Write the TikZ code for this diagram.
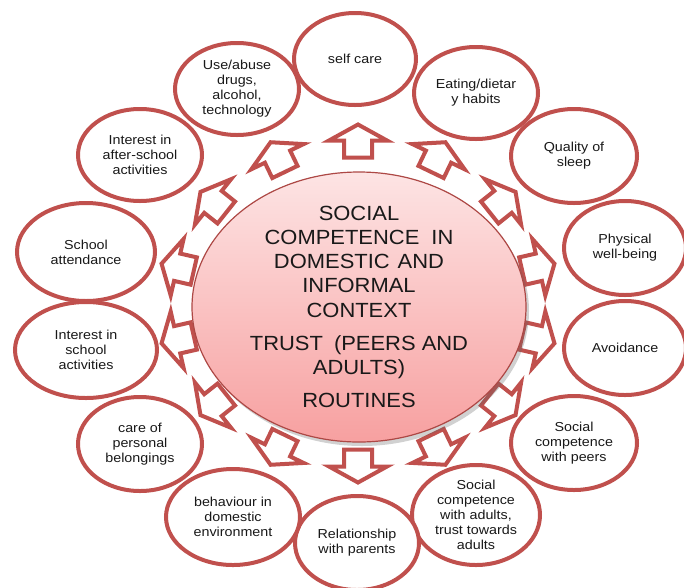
\documentclass[tikz,border=0pt]{standalone}
\usepackage{fontspec}
\setmainfont{Liberation Sans}
\newfontfamily\lblfont[FakeStretch=1.1]{Liberation Sans}
\newfontfamily\ctrfont[FakeStretch=1.07]{Liberation Sans}
\usetikzlibrary{shapes.geometric,shadows}
\definecolor{accred}{HTML}{C0504D}
\definecolor{pinktop}{RGB}{253,228,228}
\definecolor{pinkbot}{RGB}{247,160,160}
\definecolor{txtc}{RGB}{25,25,25}
\tikzset{
  outerell/.style={ellipse, draw=accred, line width=4pt, fill=white, inner sep=-30pt,
    align=center, text=txtc, font=\lblfont\fontsize{13}{15}\selectfont},
  blockarr/.style={draw=accred, line width=4pt, fill=white, line join=miter},
  hub/.style={ellipse, draw=accred!90!black, line width=1.2pt, inner sep=-45pt,
    top color=pinktop, bottom color=pinkbot, align=center, text=txtc,
    font=\ctrfont\fontsize{20.5}{24.2}\selectfont,
    drop shadow={shadow xshift=3pt, shadow yshift=-4pt, opacity=0.3, fill=black!60}}
}
\begin{document}
\begin{tikzpicture}[x=1pt,y=-1pt]
\useasboundingbox (0,0) rectangle (684,587);
% block arrows pointing outward
\foreach \i in {0,...,13}{
  \pgfmathsetmacro\th{90-\i*360/14}
  \begin{scope}[shift={({358+185*cos(\th)},{303.5-162.5*sin(\th)})}, rotate=\th-90]
    \draw[blockarr] (0,-16.5) -- (29,-0.5) -- (14,-0.5) -- (14,16.5)
      -- (-14,16.5) -- (-14,-0.5) -- (-29,-0.5) -- cycle;
  \end{scope}
}
% outer ellipses
\node[outerell, minimum width=122pt, minimum height=92pt] (selfcare) at (355,59) {self care};
\node[outerell, minimum width=124pt, minimum height=92pt] (eating) at (476,93) {Eating/dietar\\y habits};
\node[outerell, minimum width=126pt, minimum height=94pt] (sleep) at (574,156) {Quality of\\sleep};
\node[outerell, minimum width=122pt, minimum height=94pt] (physical) at (625,248) {Physical\\well-being};
\node[outerell, minimum width=122pt, minimum height=94pt] (avoid) at (625,348) {Avoidance};
\node[outerell, minimum width=126pt, minimum height=94pt] (peers) at (574,443) {Social\\competence\\with peers};
\node[outerell, minimum width=128pt, minimum height=100pt] (adults) at (476,515) {Social\\competence\\with adults,\\trust towards\\adults};
\node[outerell, minimum width=124pt, minimum height=94pt] (parents) at (357,543) {Relationship\\with parents};
\node[outerell, minimum width=134pt, minimum height=96pt] (behav) at (233,517) {behaviour in\\domestic\\environment};
\node[outerell, minimum width=124pt, minimum height=94pt] (belong) at (140,444) {care of\\personal\\belongings};
\node[outerell, minimum width=142pt, minimum height=96pt] (schoolact) at (86,350) {Interest in\\school\\activities};
\node[outerell, minimum width=138pt, minimum height=98pt] (attend) at (86,252) {School\\attendance};
\node[outerell, minimum width=124pt, minimum height=92pt] (afterschool) at (140,155) {Interest in\\after-school\\activities};
\node[outerell, minimum width=124pt, minimum height=92pt] (drugs) at (237,89) {Use/abuse\\drugs,\\alcohol,\\technology};
% central ellipse
\node[hub, minimum width=334pt, minimum height=270pt] (core) at (359,307)
  {SOCIAL\\COMPETENCE\hspace{12pt}IN\\DOMESTIC\hspace{8pt}AND\\INFORMAL\\CONTEXT\\[9pt]TRUST\hspace{11pt}(PEERS AND\\ADULTS)\\[9pt]ROUTINES};
\end{tikzpicture}
\end{document}
